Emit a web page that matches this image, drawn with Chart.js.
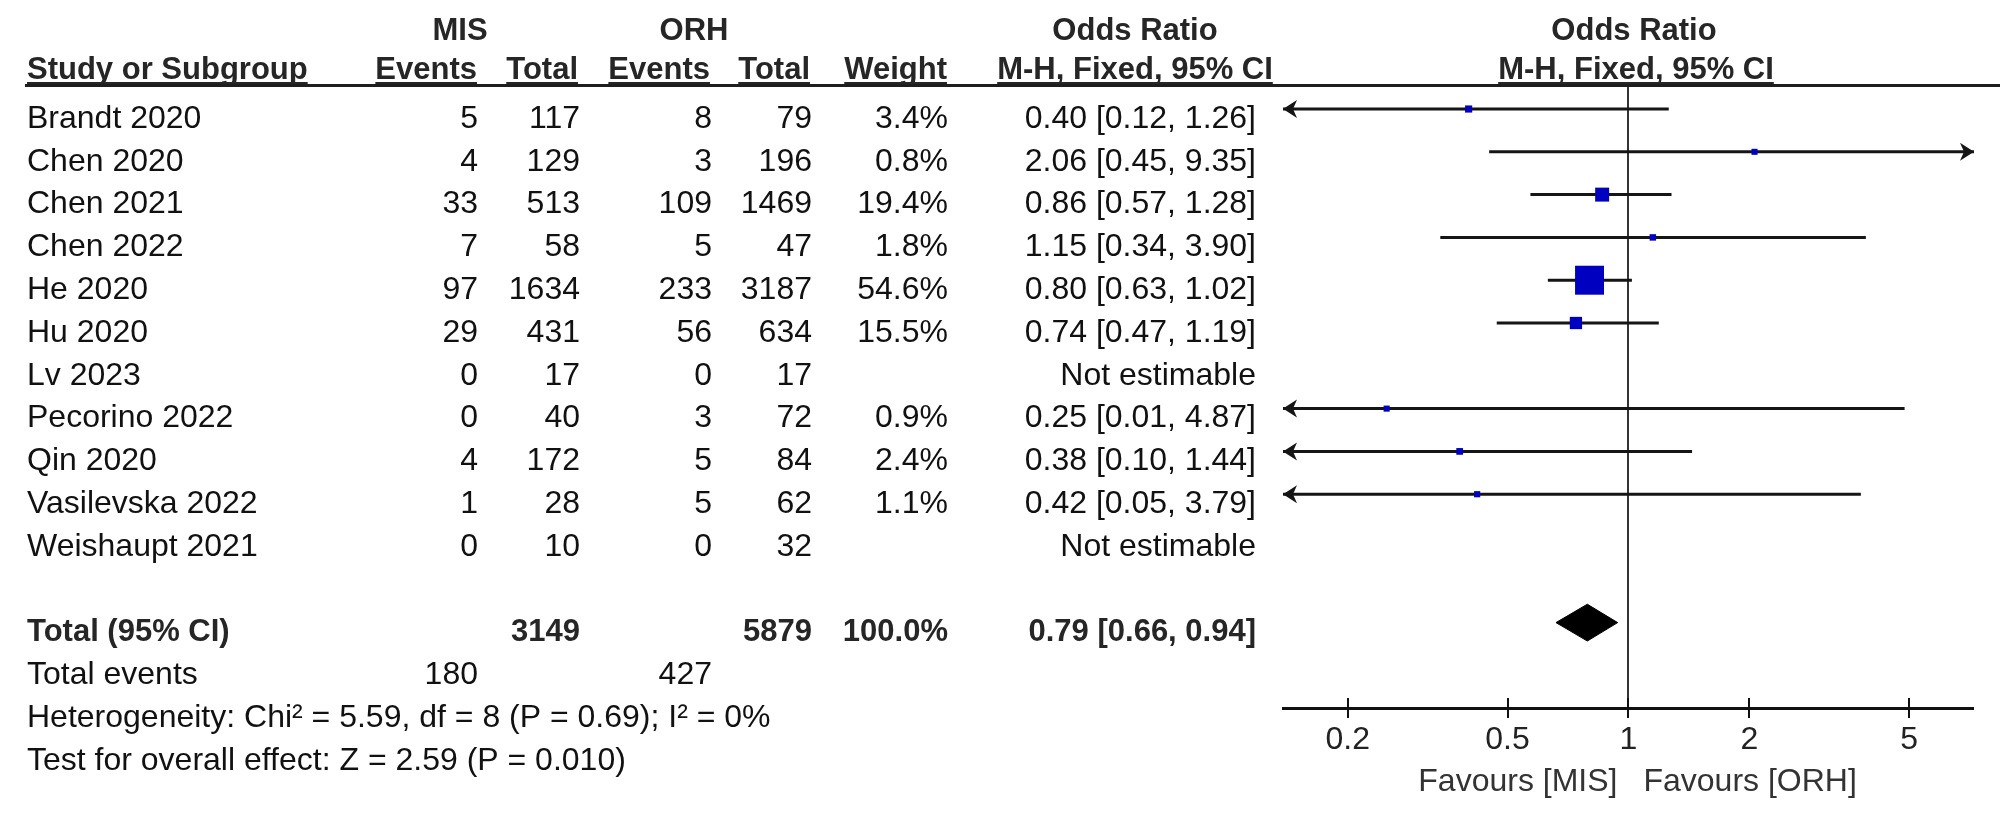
<!DOCTYPE html>
<html>
<head>
<meta charset="utf-8">
<script src="https://cdn.jsdelivr.net/npm/chart.js@4.4.1/dist/chart.umd.min.js"></script>
<style>
  html, body { margin: 0; padding: 0; background: #fff; }
  canvas { display: block; }
</style>
</head>
<body>
<canvas id="forest" width="2000" height="816"></canvas>
<script>
// data
const studies = ['Brandt 2020', 'Chen 2020', 'Chen 2021', 'Chen 2022', 'He 2020', 'Hu 2020',
  'Lv 2023', 'Pecorino 2022', 'Qin 2020', 'Vasilevska 2022', 'Weishaupt 2021'];
const misEvents = [5, 4, 33, 7, 97, 29, 0, 0, 4, 1, 0];
const misTotal = [117, 129, 513, 58, 1634, 431, 17, 40, 172, 28, 10];
const orhEvents = [8, 3, 109, 5, 233, 56, 0, 3, 5, 5, 0];
const orhTotal = [79, 196, 1469, 47, 3187, 634, 17, 72, 84, 62, 32];
const weights = [3.4, 0.8, 19.4, 1.8, 54.6, 15.5, null, 0.9, 2.4, 1.1, null];
const orEst = [0.40, 2.06, 0.86, 1.15, 0.80, 0.74, null, 0.25, 0.38, 0.42, null];
const orLow = [0.12, 0.45, 0.57, 0.34, 0.63, 0.47, null, 0.01, 0.10, 0.05, null];
const orHigh = [1.26, 9.35, 1.28, 3.90, 1.02, 1.19, null, 4.87, 1.44, 3.79, null];

const totals = [3149, 5879];        // MIS, ORH
const totalEvents = [180, 427];     // MIS, ORH
const pooled = [0.79, 0.66, 0.94];  // estimate, low, high
const heterogeneity = 'Heterogeneity: Chi\u00b2 = 5.59, df = 8 (P = 0.69); I\u00b2 = 0%';
const overallEffect = 'Test for overall effect: Z = 2.59 (P = 0.010)';

const xTicks = [0.2, 0.5, 1, 2, 5];
const xMin = 0.138, xMax = 7.25;

// layout bits
const FONT = 'Arial, "Liberation Sans", sans-serif';
const FS = 32;       // body text
const FS_BOLD = 31;  // headers / totals
const totalRow = 12;
const diamondHalf = 0.43;   // half height of the diamond, in rows
const textShift = 10;       // text sits a little under the plot marks
const nameLeft = 27;
const col = { misEv: 478, misTot: 580, orhEv: 712, orhTot: 812, weight: 948, or: 1256 };

const f2 = v => v.toFixed(2);
const orText = i => orEst[i] == null ? 'Not estimable'
  : f2(orEst[i]) + ' [' + f2(orLow[i]) + ', ' + f2(orHigh[i]) + ']';

// one line per confidence interval
const ciSets = [];
studies.forEach((s, i) => {
  if (orEst[i] == null) return;
  ciSets.push({
    type: 'scatter', label: s, showLine: true,
    data: [{ x: orLow[i], y: i }, { x: orHigh[i], y: i }],
    borderColor: '#151515', borderWidth: 3, pointRadius: 0, clip: 0, order: 2
  });
});

const squarePts = [];
studies.forEach((s, i) => {
  if (orEst[i] != null) squarePts.push({ x: orEst[i], y: i, w: weights[i] });
});

const datasets = [
  ...ciSets,
  {
    type: 'scatter', label: 'weights', data: squarePts,
    pointStyle: 'rect',
    pointRadius: c => (5.7 + 0.426 * c.raw.w) / Math.SQRT2,
    backgroundColor: '#0000c0', borderWidth: 0, order: 0
  },
  {
    type: 'scatter', label: 'pooled', showLine: true, fill: 'shape',
    data: [
      { x: pooled[1], y: totalRow },
      { x: pooled[0], y: totalRow - diamondHalf },
      { x: pooled[2], y: totalRow },
      { x: pooled[0], y: totalRow + diamondHalf },
      { x: pooled[1], y: totalRow }
    ],
    borderColor: '#000', backgroundColor: '#000', borderWidth: 1, pointRadius: 0, order: 1
  }
];

function txt(ctx, s, x, y, align, bold, color) {
  ctx.font = bold ? 'bold ' + FS_BOLD + 'px ' + FONT : FS + 'px ' + FONT;
  ctx.textAlign = align;
  ctx.textBaseline = 'middle';
  ctx.fillStyle = color || '#111';
  ctx.fillText(s, x, y);
  return ctx.measureText(s).width;
}

function underlined(ctx, s, x, y, align) {
  const w = txt(ctx, s, x, y, align, true, '#262626');
  const x0 = align === 'left' ? x : align === 'right' ? x - w : x - w / 2;
  ctx.fillStyle = '#262626';
  ctx.fillRect(x0, 82, w, 2);
}

const forestPlugin = {
  id: 'forestTable',
  afterDatasetsDraw(chart) {
    const { ctx, scales: { x, y } } = chart;
    ctx.save();
    ctx.fillStyle = '#151515';
    studies.forEach((s, i) => {
      if (orEst[i] == null) return;
      const py = y.getPixelForValue(i);
      if (orLow[i] < x.min) arrow(ctx, x.left, py, -1);
      if (orHigh[i] > x.max) arrow(ctx, x.right, py, 1);
    });
    ctx.restore();
  },
  afterDraw(chart) {
    const { ctx, scales: { x, y } } = chart;
    const rowY = i => y.getPixelForValue(i) + textShift;
    ctx.save();

    // upper half of the tick marks
    ctx.strokeStyle = '#111';
    ctx.lineWidth = 2;
    xTicks.forEach(v => {
      const px = Math.round(x.getPixelForValue(v));
      ctx.beginPath();
      ctx.moveTo(px, x.top - 10);
      ctx.lineTo(px, x.top);
      ctx.stroke();
    });

    // headers
    txt(ctx, 'MIS', 460, 31, 'center', true, '#262626');
    txt(ctx, 'ORH', 694, 31, 'center', true, '#262626');
    txt(ctx, 'Odds Ratio', 1135, 31, 'center', true, '#262626');
    txt(ctx, 'Odds Ratio', 1634, 31, 'center', true, '#262626');
    underlined(ctx, 'Study or Subgroup', nameLeft, 70, 'left');
    underlined(ctx, 'Events', 477, 70, 'right');
    underlined(ctx, 'Total', 578, 70, 'right');
    underlined(ctx, 'Events', 710, 70, 'right');
    underlined(ctx, 'Total', 810, 70, 'right');
    underlined(ctx, 'Weight', 947, 70, 'right');
    underlined(ctx, 'M-H, Fixed, 95% CI', 1135, 70, 'center');
    underlined(ctx, 'M-H, Fixed, 95% CI', 1636, 70, 'center');
    ctx.fillStyle = '#1e1e1e';
    ctx.fillRect(25, 84, 1975, 3);

    // study rows
    studies.forEach((s, i) => {
      const py = rowY(i);
      txt(ctx, s, nameLeft, py, 'left');
      txt(ctx, String(misEvents[i]), col.misEv, py, 'right');
      txt(ctx, String(misTotal[i]), col.misTot, py, 'right');
      txt(ctx, String(orhEvents[i]), col.orhEv, py, 'right');
      txt(ctx, String(orhTotal[i]), col.orhTot, py, 'right');
      if (weights[i] != null) txt(ctx, weights[i].toFixed(1) + '%', col.weight, py, 'right');
      txt(ctx, orText(i), col.or, py, 'right');
    });

    // totals
    let py = rowY(totalRow);
    txt(ctx, 'Total (95% CI)', nameLeft, py, 'left', true, '#262626');
    txt(ctx, String(totals[0]), col.misTot, py, 'right', true, '#262626');
    txt(ctx, String(totals[1]), col.orhTot, py, 'right', true, '#262626');
    txt(ctx, '100.0%', col.weight, py, 'right', true, '#262626');
    txt(ctx, f2(pooled[0]) + ' [' + f2(pooled[1]) + ', ' + f2(pooled[2]) + ']', col.or, py, 'right', true, '#262626');
    py = rowY(totalRow + 1);
    txt(ctx, 'Total events', nameLeft, py, 'left');
    txt(ctx, String(totalEvents[0]), col.misEv, py, 'right');
    txt(ctx, String(totalEvents[1]), col.orhEv, py, 'right');
    txt(ctx, heterogeneity, nameLeft, rowY(totalRow + 2), 'left');
    txt(ctx, overallEffect, nameLeft, rowY(totalRow + 3), 'left');

    // favours labels
    const one = x.getPixelForValue(1);
    txt(ctx, 'Favours [MIS]', one - 11, 782, 'right', false, '#333');
    txt(ctx, 'Favours [ORH]', one + 15, 782, 'left', false, '#333');
    ctx.restore();
  }
};

function arrow(ctx, tipX, py, dir) {
  ctx.beginPath();
  ctx.moveTo(tipX, py);
  ctx.lineTo(tipX - dir * 14, py - 9);
  ctx.lineTo(tipX - dir * 10, py);
  ctx.lineTo(tipX - dir * 14, py + 9);
  ctx.closePath();
  ctx.fill();
}

new Chart(document.getElementById('forest'), {
  type: 'scatter',
  data: { datasets },
  options: {
    responsive: false,
    animation: false,
    devicePixelRatio: 1,
    layout: { padding: { left: 1283, right: 26, top: 85, bottom: 0 } },
    plugins: { legend: { display: false }, tooltip: { enabled: false } },
    scales: {
      x: {
        type: 'logarithmic',
        position: 'bottom',
        min: xMin,
        max: xMax,
        afterBuildTicks: scale => { scale.ticks = xTicks.map(v => ({ value: v })); },
        afterFit: scale => { scale.height = 108; },
        ticks: {
          callback: v => String(v),
          font: { family: FONT, size: FS },
          color: '#222',
          padding: 3,
          maxRotation: 0,
          autoSkip: false
        },
        grid: {
          drawOnChartArea: true,
          color: c => (c.tick && c.tick.value === 1) ? '#333' : 'rgba(0,0,0,0)',
          lineWidth: c => (c.tick && c.tick.value === 1) ? 2 : 0,
          tickColor: '#111',
          tickWidth: 2,
          tickLength: 10
        },
        border: { display: true, color: '#111', width: 3 }
      },
      y: {
        type: 'linear',
        reverse: true,
        min: -0.561,
        max: 13.995,
        display: false
      }
    }
  },
  plugins: [forestPlugin]
});
</script>
</body>
</html>
